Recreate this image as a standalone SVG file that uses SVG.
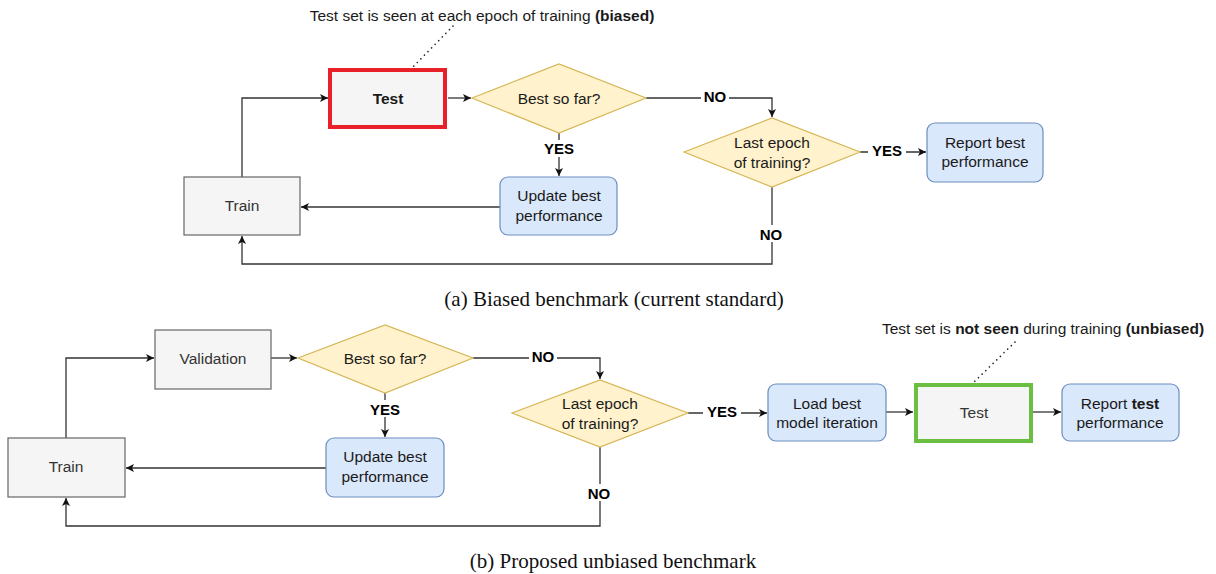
<svg xmlns="http://www.w3.org/2000/svg" width="1216" height="574" viewBox="0 0 1216 574">
<style>
.t{font-family:"Liberation Sans",Arial,sans-serif;font-size:15.5px;fill:#1a1a1a;text-anchor:middle;dominant-baseline:central}
.g{fill:#333}
.b{font-weight:bold}
.lab{font-family:"Liberation Sans",Arial,sans-serif;font-size:15px;font-weight:bold;fill:#000;text-anchor:middle;dominant-baseline:central}
.note{font-family:"Liberation Sans",Arial,sans-serif;font-size:15.5px;fill:#1a1a1a;text-anchor:middle}
.cap{font-family:"Liberation Serif","Times New Roman",serif;font-size:21px;fill:#111;text-anchor:middle}
.grey{fill:#f5f5f5;stroke:#666;stroke-width:1.2}
.blue{fill:#dae8fc;stroke:#6c8ebf;stroke-width:1.2}
.dia{fill:#fff2cc;stroke:#d6b656;stroke-width:1.2}
.c{fill:none;stroke:#333;stroke-width:1.3}
.dot{fill:none;stroke:#222;stroke-width:1.6;stroke-dasharray:0.1,5;stroke-linecap:round}
.bg{fill:#fff}
</style>
<defs>
<marker id="arr" markerUnits="userSpaceOnUse" markerWidth="10" markerHeight="10" refX="8" refY="4" orient="auto">
<path d="M0,0 L8,4 L0,8 L2,4 z" fill="#111"/>
</marker>
</defs>
<rect width="1216" height="574" fill="#fff"/>

<g id="connectors">
<!-- panel a -->
<path class="c" d="M242,177 V98 H328" marker-end="url(#arr)"/>
<path class="c" d="M448,98 H471" marker-end="url(#arr)"/>
<path class="c" d="M559,133 V176" marker-end="url(#arr)"/>
<path class="c" d="M646,98 H772 V117" marker-end="url(#arr)"/>
<path class="c" d="M860,152 H926" marker-end="url(#arr)"/>
<path class="c" d="M772,187 V264 H242 V236" marker-end="url(#arr)"/>
<path class="c" d="M500,207 H301" marker-end="url(#arr)"/>
<line class="dot" x1="453" y1="26" x2="410" y2="70"/>
<!-- panel b -->
<path class="c" d="M66,438 V358 H154" marker-end="url(#arr)"/>
<path class="c" d="M271,358 H297" marker-end="url(#arr)"/>
<path class="c" d="M385,393 V437" marker-end="url(#arr)"/>
<path class="c" d="M473,358 H600 V379" marker-end="url(#arr)"/>
<path class="c" d="M688,413 H767" marker-end="url(#arr)"/>
<path class="c" d="M886,412 H913" marker-end="url(#arr)"/>
<path class="c" d="M1033,412 H1061" marker-end="url(#arr)"/>
<path class="c" d="M600,447 V526 H66 V498" marker-end="url(#arr)"/>
<path class="c" d="M326,468 H126" marker-end="url(#arr)"/>
<line class="dot" x1="1015" y1="342" x2="972" y2="384"/>
<!-- labels -->
<rect class="bg" x="540" y="140" width="38" height="17"/><text class="lab" x="559" y="148">YES</text>
<rect class="bg" x="701" y="87" width="28" height="17"/><text class="lab" x="715" y="96">NO</text>
<rect class="bg" x="868" y="142" width="38" height="17"/><text class="lab" x="887" y="150">YES</text>
<rect class="bg" x="757" y="225" width="28" height="17"/><text class="lab" x="771" y="234">NO</text>
<rect class="bg" x="366" y="400" width="38" height="17"/><text class="lab" x="385" y="409">YES</text>
<rect class="bg" x="529" y="347" width="28" height="17"/><text class="lab" x="543" y="356">NO</text>
<rect class="bg" x="703" y="402" width="38" height="17"/><text class="lab" x="722" y="411">YES</text>
<rect class="bg" x="585" y="484" width="28" height="17"/><text class="lab" x="599" y="493">NO</text>
</g>

<g id="note-a"><text class="note" x="482" y="21">Test set is seen at each epoch of training <tspan class="b">(biased)</tspan></text></g>
<g id="a-test"><rect x="330" y="70" width="115" height="57" fill="#f5f5f5" stroke="#e8202a" stroke-width="4"/><text class="t b" x="388" y="98">Test</text></g>
<g id="a-best"><polygon class="dia" points="472,98 559,64 646,98 559,133"/><text class="t" x="559" y="98">Best so far?</text></g>
<g id="a-update"><rect class="blue" x="500" y="177" width="117" height="58" rx="8"/><text class="t" x="559" y="195">Update best</text><text class="t" x="559" y="215">performance</text></g>
<g id="a-train"><rect class="grey" x="184" y="177" width="116" height="58"/><text class="t g" x="242" y="205">Train</text></g>
<g id="a-last"><polygon class="dia" points="684,152 772,118 860,152 772,187"/><text class="t" x="772" y="142">Last epoch</text><text class="t" x="772" y="162">of training?</text></g>
<g id="a-report"><rect class="blue" x="927" y="123" width="116" height="59" rx="8"/><text class="t" x="985" y="142">Report best</text><text class="t" x="985" y="161">performance</text></g>
<g id="cap-a"><text class="cap" x="614" y="306">(a) Biased benchmark (current standard)</text></g>

<g id="note-b"><text class="note" x="1043" y="334">Test set is <tspan class="b">not seen</tspan> during training <tspan class="b">(unbiased)</tspan></text></g>
<g id="b-validation"><rect class="grey" x="155" y="330" width="116" height="59"/><text class="t g" x="213" y="358">Validation</text></g>
<g id="b-best"><polygon class="dia" points="298,358 385,325 473,358 385,393"/><text class="t" x="385" y="358">Best so far?</text></g>
<g id="b-update"><rect class="blue" x="326" y="438" width="118" height="59" rx="8"/><text class="t" x="385" y="456">Update best</text><text class="t" x="385" y="476">performance</text></g>
<g id="b-train"><rect class="grey" x="8" y="438" width="117" height="59"/><text class="t g" x="66" y="466">Train</text></g>
<g id="b-last"><polygon class="dia" points="512,413 600,380 688,413 600,447"/><text class="t" x="600" y="403">Last epoch</text><text class="t" x="600" y="423">of training?</text></g>
<g id="b-load"><rect class="blue" x="768" y="384" width="118" height="57" rx="8"/><text class="t" x="827" y="403">Load best</text><text class="t" x="827" y="422">model iteration</text></g>
<g id="b-test"><rect x="916" y="385" width="115" height="56" fill="#f5f5f5" stroke="#6abf40" stroke-width="4"/><text class="t g" x="974" y="412">Test</text></g>
<g id="b-report"><rect class="blue" x="1062" y="384" width="117" height="57" rx="8"/><text class="t" x="1120" y="403">Report <tspan class="b">test</tspan></text><text class="t" x="1120" y="422">performance</text></g>
<g id="cap-b"><text class="cap" x="613" y="568">(b) Proposed unbiased benchmark</text></g>
</svg>
